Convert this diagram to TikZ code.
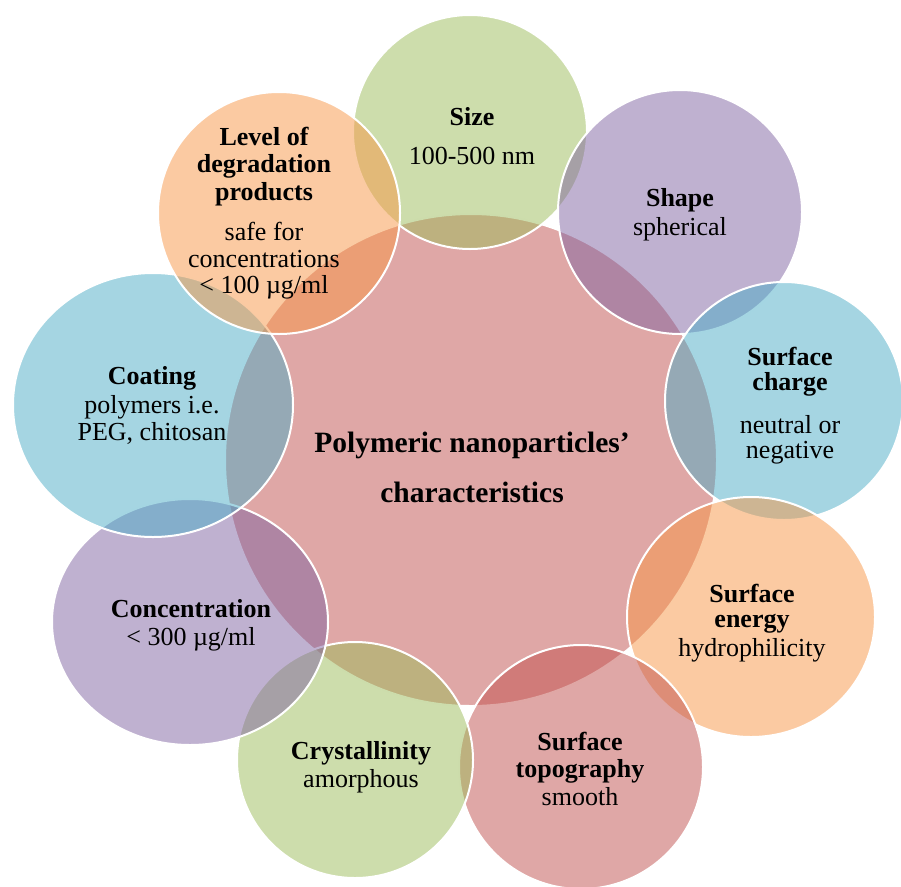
\documentclass[tikz,border=0pt]{standalone}
\usepackage{fontspec}
\setmainfont{Liberation Serif}
\usetikzlibrary{shapes.geometric}
\definecolor{cgreen}{HTML}{9BBB59}
\definecolor{cred}{HTML}{C0504D}
\definecolor{cpurple}{HTML}{8064A2}
\definecolor{cblue}{HTML}{4BACC6}
\definecolor{corange}{HTML}{F79646}
\begin{document}
\begin{tikzpicture}[x=1pt,y=-1pt,
  bub/.style={ellipse, draw=white, line width=2pt, fill opacity=0.5, inner sep=0pt},
  hd/.style={anchor=base, inner sep=0pt, font=\fontsize{26}{30}\selectfont\bfseries},
  tx/.style={anchor=base, inner sep=0pt, font=\fontsize{26}{30}\selectfont},
  ctr/.style={anchor=base, inner sep=0pt, font=\fontsize{29.5}{34}\selectfont\bfseries}]
\useasboundingbox (0,0) rectangle (901,886);
% circles, back to front
\node[bub, fill=cred, minimum width=492pt, minimum height=492pt] (core) at (471,460) {};
\node[bub, fill=cgreen, minimum width=234pt, minimum height=234pt] (size) at (470,132) {};
\node[bub, fill=cpurple, minimum width=244pt, minimum height=244pt] (shape) at (680,212) {};
\node[bub, fill=cblue, minimum width=238pt, minimum height=238pt] (charge) at (784,401) {};
\node[bub, fill=corange, minimum width=248pt, minimum height=240pt] (energy) at (751,617) {};
\node[bub, fill=cred, minimum width=244pt, minimum height=244pt] (topo) at (581,767) {};
\node[bub, fill=cgreen, minimum width=236pt, minimum height=236pt] (crys) at (355,760) {};
\node[bub, fill=cpurple, minimum width=276pt, minimum height=246pt] (conc) at (190,622) {};
\node[bub, fill=cblue, minimum width=280pt, minimum height=264pt] (coat) at (153,405) {};
\node[bub, fill=corange, minimum width=242pt, minimum height=242pt] (level) at (279,213) {};
% texts
\node[ctr] (c1) at (472,452) {Polymeric nanoparticles’};
\node[ctr] (c2) at (472,502) {characteristics};
\node[hd] (s1) at (472,125) {Size};
\node[tx] (s2) at (472,164) {100-500 nm};
\node[hd] (h1) at (680,206) {Shape};
\node[tx] (h2) at (680,235) {spherical};
\node[hd] (q1) at (790,365) {Surface};
\node[hd] (q2) at (790,390) {charge};
\node[tx] (q3) at (790,433) {neutral or};
\node[tx] (q4) at (790,458) {negative};
\node[hd] (e1) at (752,602) {Surface};
\node[hd] (e2) at (752,627) {energy};
\node[tx] (e3) at (752,656) {hydrophilicity};
\node[hd] (t1) at (580,750) {Surface};
\node[hd] (t2) at (580,777) {topography};
\node[tx] (t3) at (580,805) {smooth};
\node[hd] (y1) at (361,759) {Crystallinity};
\node[tx] (y2) at (361,787) {amorphous};
\node[hd] (n1) at (191,617) {Concentration};
\node[tx] (n2) at (191,645) {< 300 µg/ml};
\node[hd] (g1) at (152,384) {Coating};
\node[tx] (g2) at (152,413) {polymers i.e.};
\node[tx] (g3) at (152,440) {PEG, chitosan};
\node[hd] (l1) at (264,145) {Level of};
\node[hd] (l2) at (264,172) {degradation};
\node[hd] (l3) at (264,200) {products};
\node[tx] (l4) at (264,240) {safe for};
\node[tx] (l5) at (264,267) {concentrations};
\node[tx] (l6) at (264,293) {< 100 µg/ml};
\end{tikzpicture}
\end{document}
